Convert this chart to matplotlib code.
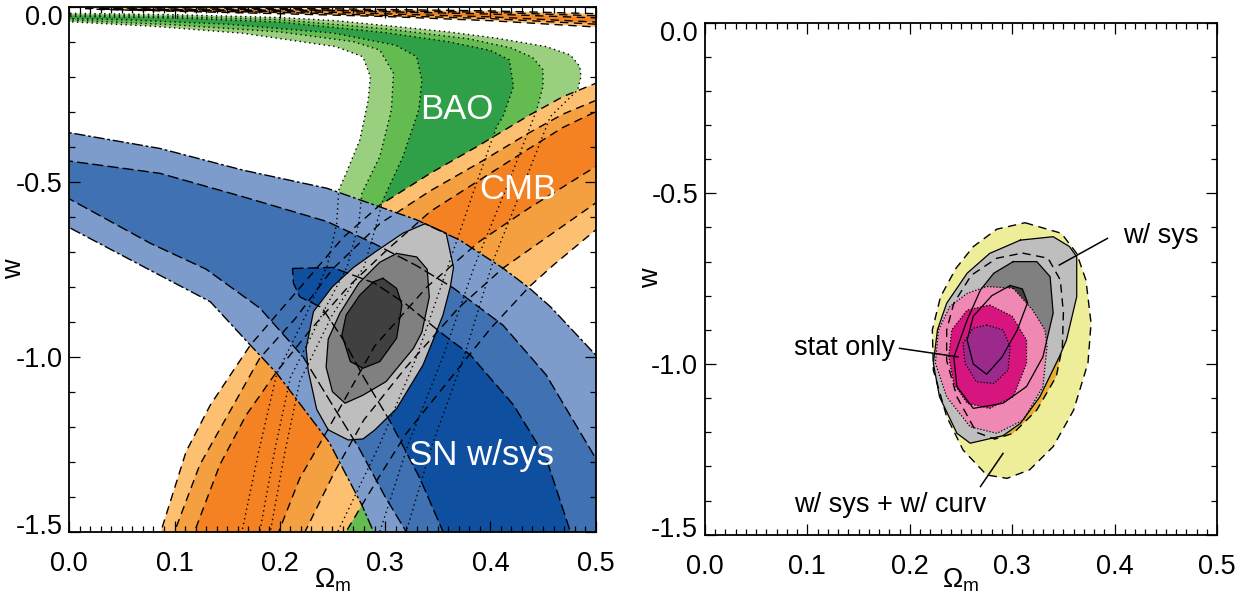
import numpy as np
import matplotlib.pyplot as plt
from matplotlib.ticker import MultipleLocator
from matplotlib.transforms import ScaledTranslation

plt.rcParams['font.family'] = ['Liberation Sans', 'DejaVu Sans']
plt.rcParams['mathtext.fontset'] = 'custom'
plt.rcParams['mathtext.rm'] = 'Liberation Sans'
plt.rcParams['mathtext.it'] = 'Liberation Sans:italic'

# axis ticks
xticks = [0.0, 0.1, 0.2, 0.3, 0.4, 0.5]
xticklabels = ['0.0', '0.1', '0.2', '0.3', '0.4', '0.5']
yticks = [-1.5, -1.0, -0.5, 0.0]
yticklabels = ['-1.5', '-1.0', '-0.5', '0.0']

# ---------------- left panel: contour outlines (Omega_m, w) ----------------
# BAO, 3 / 2 / 1 sigma
bao_3s = [(-0.05, -0.017), (0.0, -0.019), (0.1, -0.023), (0.2, -0.031), (0.253, -0.04), (0.311, -0.057),
          (0.36, -0.072), (0.406, -0.09), (0.453, -0.114), (0.476, -0.138), (0.485, -0.171), (0.486, -0.2),
          (0.483, -0.238), (0.457, -0.314), (0.43, -0.52), (0.403, -0.724), (0.375, -1.0), (0.345, -1.25),
          (0.32, -1.5), (0.31, -1.6), (0.155, -1.6), (0.164, -1.5), (0.18, -1.27), (0.197, -1.05),
          (0.225, -0.88), (0.245, -0.74), (0.254, -0.62), (0.256, -0.524), (0.263, -0.476), (0.276, -0.381),
          (0.284, -0.267), (0.286, -0.2), (0.279, -0.143), (0.253, -0.114), (0.165, -0.076), (0.08, -0.056),
          (0.0, -0.043), (-0.05, -0.04)]
bao_2s = [(-0.05, -0.021), (0.0, -0.023), (0.1, -0.028), (0.2, -0.037), (0.3, -0.063), (0.38, -0.092),
          (0.42, -0.118), (0.44, -0.145), (0.45, -0.18), (0.45, -0.228), (0.444, -0.295), (0.415, -0.52),
          (0.385, -0.74), (0.355, -1.0), (0.322, -1.25), (0.295, -1.5), (0.285, -1.6), (0.172, -1.6),
          (0.181, -1.5), (0.195, -1.27), (0.21, -1.06), (0.24, -0.88), (0.264, -0.743), (0.275, -0.62),
          (0.278, -0.533), (0.295, -0.428), (0.306, -0.295), (0.308, -0.19), (0.295, -0.124), (0.27, -0.1),
          (0.2, -0.072), (0.1, -0.052), (0.0, -0.038), (-0.05, -0.036)]
bao_1s = [(-0.05, -0.025), (0.0, -0.027), (0.1, -0.032), (0.2, -0.044), (0.3, -0.074), (0.36, -0.1),
          (0.4, -0.125), (0.418, -0.152), (0.422, -0.228), (0.412, -0.314), (0.406, -0.343), (0.385, -0.52),
          (0.36, -0.74), (0.33, -1.0), (0.295, -1.25), (0.255, -1.5), (0.245, -1.6), (0.18, -1.6),
          (0.191, -1.5), (0.205, -1.27), (0.219, -1.07), (0.25, -0.88), (0.28, -0.743), (0.292, -0.62),
          (0.298, -0.552), (0.317, -0.428), (0.332, -0.295), (0.335, -0.21), (0.33, -0.143), (0.31, -0.11),
          (0.25, -0.075), (0.15, -0.05), (0.05, -0.037), (0.0, -0.034), (-0.05, -0.032)]

# CMB, main arc and the thin strip along w=0
cmb_3s = [(0.075, -1.6), (0.087, -1.5), (0.111, -1.271), (0.134, -1.138), (0.172, -0.967), (0.22, -0.8),
          (0.26, -0.66), (0.295, -0.567), (0.343, -0.476), (0.39, -0.395), (0.437, -0.31), (0.469, -0.257),
          (0.5, -0.219), (0.56, -0.16), (0.56, -0.5), (0.5, -0.638), (0.46, -0.738), (0.437, -0.8),
          (0.4, -0.92), (0.36, -1.07), (0.32, -1.22), (0.295, -1.34), (0.278, -1.424), (0.263, -1.5), (0.25, -1.6)]
cmb_2s = [(0.09, -1.6), (0.1, -1.5), (0.124, -1.309), (0.156, -1.138), (0.181, -1.004), (0.215, -0.89),
          (0.25, -0.75), (0.295, -0.62), (0.343, -0.526), (0.39, -0.445), (0.437, -0.36), (0.469, -0.307),
          (0.5, -0.268), (0.56, -0.21), (0.56, -0.42), (0.5, -0.561), (0.412, -0.747), (0.37, -0.86),
          (0.32, -1.03), (0.28, -1.18), (0.252, -1.329), (0.224, -1.5), (0.215, -1.6)]
cmb_1s = [(0.105, -1.6), (0.119, -1.5), (0.143, -1.309), (0.168, -1.167), (0.197, -1.043), (0.23, -0.92),
          (0.265, -0.8), (0.3, -0.7), (0.343, -0.585), (0.39, -0.495), (0.437, -0.405), (0.469, -0.345),
          (0.5, -0.3), (0.56, -0.24), (0.56, -0.35), (0.5, -0.457), (0.437, -0.575), (0.39, -0.67),
          (0.34, -0.8), (0.29, -0.97), (0.241, -1.233), (0.219, -1.347), (0.199, -1.5), (0.19, -1.6)]
cmbtop_3s = [(0.015, -0.005), (0.1, -0.003), (0.25, -0.006), (0.4, -0.012), (0.5, -0.02), (0.55, -0.025),
             (0.55, -0.075), (0.5, -0.058), (0.4, -0.04), (0.3, -0.028), (0.2, -0.02), (0.1, -0.013), (0.03, -0.008)]
cmbtop_2s = [(0.03, -0.006), (0.2, -0.008), (0.4, -0.016), (0.5, -0.026), (0.55, -0.03),
             (0.55, -0.062), (0.5, -0.05), (0.4, -0.034), (0.2, -0.016), (0.05, -0.009)]
cmbtop_1s = [(0.06, -0.008), (0.25, -0.011), (0.4, -0.021), (0.5, -0.032), (0.55, -0.038),
             (0.55, -0.054), (0.5, -0.044), (0.4, -0.029), (0.25, -0.016), (0.08, -0.0095)]

# SN w/ sys
sn_3s = [(-0.05, -0.34), (0.0, -0.36), (0.086, -0.405), (0.165, -0.467), (0.245, -0.519), (0.33, -0.609),
         (0.371, -0.667), (0.412, -0.747), (0.437, -0.804), (0.457, -0.857), (0.5, -0.995), (0.54, -1.14),
         (0.58, -1.32), (0.62, -1.6), (0.3, -1.6), (0.289, -1.5), (0.278, -1.424), (0.247, -1.245),
         (0.197, -1.047), (0.172, -0.967), (0.134, -0.843), (0.075, -0.75), (0.0, -0.631), (-0.05, -0.6)]
sn_2s = [(-0.05, -0.42), (0.0, -0.441), (0.086, -0.476), (0.165, -0.543), (0.245, -0.614), (0.289, -0.676),
         (0.33, -0.74), (0.365, -0.804), (0.412, -0.91), (0.453, -1.052), (0.5, -1.29), (0.53, -1.45),
         (0.56, -1.6), (0.33, -1.6), (0.32, -1.5), (0.3, -1.4), (0.275, -1.26), (0.25, -1.138), (0.222, -1.0),
         (0.181, -0.861), (0.13, -0.75), (0.077, -0.676), (0.0, -0.549), (-0.05, -0.51)]
sn_1s = [(0.212, -0.748), (0.25, -0.745), (0.29, -0.79), (0.32, -0.85), (0.352, -0.929), (0.381, -0.995),
         (0.422, -1.138), (0.453, -1.29), (0.476, -1.5), (0.485, -1.6), (0.36, -1.6), (0.355, -1.5),
         (0.333, -1.347), (0.305, -1.186), (0.28, -1.06), (0.26, -0.95), (0.24, -0.86), (0.219, -0.829),
         (0.213, -0.79)]

# combined
comb_3s = [(0.338, -0.62), (0.358, -0.647), (0.365, -0.745), (0.362, -0.8), (0.355, -0.881), (0.346, -0.95),
           (0.336, -1.024), (0.311, -1.148), (0.29, -1.21), (0.279, -1.235), (0.265, -1.238), (0.246, -1.209),
           (0.235, -1.15), (0.227, -1.04), (0.225, -0.976), (0.232, -0.871), (0.25, -0.8), (0.27, -0.745),
           (0.291, -0.7), (0.317, -0.647)]
comb_2s = [(0.311, -0.705), (0.33, -0.715), (0.34, -0.75), (0.342, -0.83), (0.335, -0.93), (0.327, -0.976),
           (0.301, -1.071), (0.279, -1.11), (0.262, -1.133), (0.25, -1.1), (0.244, -1.03), (0.246, -0.95),
           (0.257, -0.876), (0.275, -0.79), (0.295, -0.73)]
comb_1s = [(0.298, -0.776), (0.311, -0.805), (0.316, -0.852), (0.311, -0.947), (0.295, -1.014), (0.279, -1.033),
           (0.267, -1.014), (0.259, -0.938), (0.263, -0.881), (0.276, -0.824), (0.289, -0.786)]

# ---------------- right panel ----------------
curv_3s = [(0.3125, -0.586), (0.348, -0.617), (0.363, -0.676), (0.372, -0.754), (0.377, -0.88), (0.374, -0.997),
           (0.36, -1.135), (0.34, -1.242), (0.317, -1.31), (0.295, -1.335), (0.275, -1.325), (0.252, -1.252),
           (0.236, -1.154), (0.223, -1.018), (0.222, -0.9), (0.23, -0.803), (0.245, -0.72), (0.262, -0.656),
           (0.285, -0.605)]
curv_2s = [(0.31, -0.675), (0.335, -0.69), (0.347, -0.754), (0.35, -0.85), (0.349, -0.95), (0.343, -1.037),
           (0.324, -1.135), (0.301, -1.203), (0.283, -1.22), (0.265, -1.2), (0.246, -1.096), (0.236, -0.99),
           (0.236, -0.9), (0.243, -0.822), (0.26, -0.74), (0.285, -0.69)]
sys_3s = [(0.308, -0.637), (0.34, -0.627), (0.356, -0.656), (0.363, -0.686), (0.363, -0.803), (0.353, -0.93),
          (0.346, -0.979), (0.327, -1.096), (0.308, -1.174), (0.291, -1.21), (0.259, -1.232), (0.246, -1.203),
          (0.229, -1.096), (0.223, -0.998), (0.227, -0.9), (0.236, -0.822), (0.256, -0.734), (0.278, -0.676)]
sys_2s = [(0.301, -0.7), (0.324, -0.7), (0.337, -0.744), (0.34, -0.851), (0.33, -0.979), (0.314, -1.066),
          (0.291, -1.115), (0.262, -1.13), (0.246, -1.066), (0.243, -0.98), (0.256, -0.871), (0.269, -0.783),
          (0.282, -0.734)]
sys_1s = [(0.298, -0.77), (0.31, -0.78), (0.315, -0.82), (0.305, -0.9), (0.29, -0.98), (0.275, -1.03),
          (0.262, -1.0), (0.256, -0.93), (0.262, -0.86), (0.28, -0.8)]
stat_3s = [(0.301, -0.778), (0.32, -0.842), (0.332, -0.9), (0.334, -0.949), (0.33, -1.066), (0.311, -1.164),
           (0.285, -1.203), (0.259, -1.184), (0.236, -1.096), (0.225, -0.998), (0.228, -0.9), (0.239, -0.832),
           (0.256, -0.793), (0.275, -0.773)]
stat_2s = [(0.278, -0.827), (0.3, -0.86), (0.314, -0.93), (0.314, -0.998), (0.301, -1.096), (0.278, -1.13),
           (0.256, -1.115), (0.243, -1.057), (0.238, -0.979), (0.241, -0.9), (0.256, -0.842)]
stat_1s = [(0.275, -0.886), (0.291, -0.9), (0.298, -0.949), (0.296, -1.018), (0.282, -1.057), (0.265, -1.052),
           (0.254, -0.998), (0.252, -0.939), (0.262, -0.895)]

bao_col = ['#9bcf80', '#64bb50', '#30a048']
cmb_col = ['#fdbf70', '#f5a040', '#f58222']
sn_col = ['#7e9ccb', '#3f71b3', '#0f4f9f']
grey_col = ['#bebebe', '#808080', '#404040']
pink_col = ['#f088b4', '#d6157f', '#9c2a8c']


def fill_poly(ax, pts, color):
    p = np.array(pts)
    ax.fill(p[:, 0], p[:, 1], color=color, lw=0, zorder=1)


def line_poly(ax, pts, ls, lw=1.0):
    p = np.array(pts + [pts[0]])
    ax.plot(p[:, 0], p[:, 1], color='k', ls=ls, lw=lw, zorder=2)


def style(ax, ylab_y):
    ax.set_xlim(0, 0.5)
    ax.set_ylim(-1.5, 0)
    ax.set_xticks(xticks)
    ax.set_xticklabels(xticklabels)
    ax.set_yticks(yticks)
    ax.set_yticklabels(yticklabels)
    ax.xaxis.set_minor_locator(MultipleLocator(0.01))
    ax.yaxis.set_minor_locator(MultipleLocator(0.1))
    ax.tick_params(which='both', direction='in', top=True, right=True, width=0.9)
    ax.tick_params(which='major', length=8, labelsize=19.5)
    ax.tick_params(which='minor', length=4.3)
    ax.tick_params(axis='x', pad=14)
    ax.tick_params(axis='y', pad=5)
    ax.set_xlabel(r'$\Omega_{\rm m}$', fontsize=19.5, va='top')
    ax.xaxis.set_label_coords(0.5, ylab_y)
    ax.set_ylabel('w', fontsize=19.5)
    ax.yaxis.set_label_coords(-0.08, 0.5)
    for s in ax.spines.values():
        s.set_linewidth(1.3)
        s.set_zorder(4)
    # end labels sit a bit inside the frame
    lab = ax.get_yticklabels()
    lab[0].set_transform(lab[0].get_transform() + ScaledTranslation(0, 0.08, fig.dpi_scale_trans))
    lab[-1].set_transform(lab[-1].get_transform() + ScaledTranslation(0, -0.08, fig.dpi_scale_trans))


fig = plt.figure(figsize=(12.5, 5.97), dpi=100)
ax1 = fig.add_axes([0.0554, 0.1094, 0.4211, 0.8794])
ax2 = fig.add_axes([0.564, 0.1044, 0.4096, 0.8576])

# ---------- left ----------
bao = [bao_3s, bao_2s, bao_1s]
cmb = [cmb_3s, cmb_2s, cmb_1s]
cmbtop = [cmbtop_3s, cmbtop_2s, cmbtop_1s]
sn = [sn_3s, sn_2s, sn_1s]
comb = [comb_3s, comb_2s, comb_1s]

for pts, c in zip(bao, bao_col):
    fill_poly(ax1, pts, c)
for pts, c in zip(cmb, cmb_col):
    fill_poly(ax1, pts, c)
for pts, c in zip(cmbtop, cmb_col):
    fill_poly(ax1, pts, c)
for pts, c in zip(sn, sn_col):
    fill_poly(ax1, pts, c)
for pts, c in zip(comb, grey_col):
    fill_poly(ax1, pts, c)

for pts in bao:
    line_poly(ax1, pts, (0, (1, 2.5)))
for pts in cmb + cmbtop:
    line_poly(ax1, pts, (0, (6, 4)))
line_poly(ax1, sn_3s, (0, (8, 2, 2, 2)))
for pts in sn[1:]:
    line_poly(ax1, pts, (0, (8, 3)))
for pts in comb:
    line_poly(ax1, pts, '-', 0.9)

ax1.text(0.368, -0.295, 'BAO', color='white', fontsize=25, ha='center', va='center', zorder=3)
ax1.text(0.426, -0.522, 'CMB', color='white', fontsize=25, ha='center', va='center', zorder=3)
ax1.text(0.392, -1.281, 'SN w/sys', color='white', fontsize=25, ha='center', va='center', zorder=3)
style(ax1, -0.066)

# ---------- right ----------
fill_poly(ax2, curv_3s, '#eeed9a')
fill_poly(ax2, curv_2s, '#e6ae33')
for pts, c in zip([sys_3s, sys_2s, sys_1s], grey_col):
    fill_poly(ax2, pts, c)
for pts, c in zip([stat_3s, stat_2s, stat_1s], pink_col):
    fill_poly(ax2, pts, c)

line_poly(ax2, curv_3s, (0, (6, 4)))
line_poly(ax2, curv_2s, (0, (6, 4)))
for pts in [sys_3s, sys_2s, sys_1s]:
    line_poly(ax2, pts, '-', 0.9)
for pts in [stat_3s, stat_2s, stat_1s]:
    line_poly(ax2, pts, (0, (1, 1.5)), 0.9)

ax2.text(0.408, -0.625, 'w/ sys', fontsize=19.5, ha='left', va='center', zorder=3)
ax2.plot([0.393, 0.346], [-0.632, -0.71], color='k', lw=1.1, zorder=3)
ax2.text(0.186, -0.952, 'stat only', fontsize=19.5, ha='right', va='center', zorder=3)
ax2.plot([0.19, 0.247], [-0.954, -0.979], color='k', lw=1.1, zorder=3)
ax2.text(0.181, -1.413, 'w/ sys + w/ curv', fontsize=19.5, ha='center', va='center', zorder=3)
ax2.plot([0.269, 0.291], [-1.359, -1.262], color='k', lw=1.1, zorder=3)
style(ax2, -0.063)

fig.savefig('out.png', dpi=100)
